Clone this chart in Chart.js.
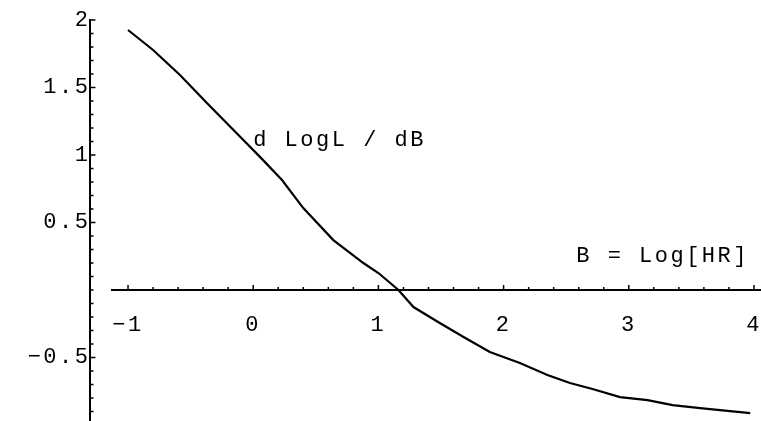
<!DOCTYPE html>
<html lang="en">
<head>
  <meta charset="UTF-8" />
  <title>d LogL / dB</title>
  <style>
    body {
      margin: 0;
      padding: 0;
      background: #fff;
    }
    canvas {
      display: block;
    }
  </style>
</head>
<body>
  <canvas id="plot" width="761" height="421"></canvas>

  <script src="https://cdn.jsdelivr.net/npm/chart.js"></script>
  <script>
    // curve: B = Log[HR] against d LogL / dB
    const bValues = [-1, -0.8, -0.585, -0.37, -0.13, 0.05, 0.23, 0.4, 0.64, 0.88, 1.0, 1.16, 1.28,
                     1.49, 1.68, 1.89, 2.13, 2.35, 2.53, 2.71, 2.93, 3.15, 3.35, 3.57, 3.97];
    const slopeValues = [1.926, 1.778, 1.593, 1.385, 1.16, 0.99, 0.815, 0.607, 0.37, 0.2, 0.126, 0, -0.126,
                         -0.244, -0.348, -0.459, -0.541, -0.63, -0.689, -0.733, -0.793, -0.815, -0.852, -0.874, -0.911];

    const xTickLabels = [-1, 0, 1, 2, 3, 4];
    const yTickLabels = [2, 1.5, 1, 0.5, -0.5];

    const curveLabel = 'd LogL / dB';
    const axisLabel = 'B = Log[HR]';

    const FONT = { family: '"Liberation Mono", "DejaVu Sans Mono", monospace', size: 22 };
    const fontStr = FONT.size + 'px ' + FONT.family;
    const SPACING = '2.5px';

    const fmt = (v) => String(v).replace('-', '\u2212');

    // the axes sit inside the plot, so their label padding must not shrink the area
    const noPadding = (scale) => {
      scale.paddingLeft = scale.paddingRight = scale.paddingTop = scale.paddingBottom = 0;
    };

    // mathematica-ish tick marks + the two text labels
    const decorations = {
      id: 'decorations',
      beforeDraw(chart) {
        chart.ctx.letterSpacing = SPACING;
      },
      afterDraw(chart) {
        const ctx = chart.ctx;
        const xs = chart.scales.x;
        const ys = chart.scales.y;
        const x0 = xs.getPixelForValue(-1.3);   // where the y axis sits
        const y0 = ys.getPixelForValue(0);      // where the x axis sits
        ctx.save();
        ctx.strokeStyle = '#000';
        ctx.lineWidth = 1.5;
        ctx.beginPath();
        // x axis ticks, pointing up
        for (let i = 0; i <= 25; i++) {
          const v = -1 + i * 0.2;
          const len = i % 5 === 0 ? 5 : 3;
          const px = xs.getPixelForValue(v);
          ctx.moveTo(px, y0);
          ctx.lineTo(px, y0 - len);
        }
        // y axis ticks, pointing right
        for (let i = -9; i <= 20; i++) {
          const v = i / 10;
          const len = (i % 5 === 0 && i !== 0) ? 5 : 3;
          const py = ys.getPixelForValue(v);
          ctx.moveTo(x0, py);
          ctx.lineTo(x0 + len, py);
        }
        ctx.stroke();

        ctx.fillStyle = '#000';
        ctx.font = fontStr;
        ctx.letterSpacing = SPACING;
        ctx.textBaseline = 'middle';
        ctx.textAlign = 'left';
        ctx.fillText(curveLabel, xs.getPixelForValue(0), ys.getPixelForValue(1.11));
        ctx.textAlign = 'center';
        ctx.fillText(axisLabel, xs.getPixelForValue(3.27), ys.getPixelForValue(0.25));
        ctx.restore();
      }
    };

    const ctx = document.getElementById('plot').getContext('2d');
    const chart = new Chart(ctx, {
      type: 'scatter',
      data: {
        datasets: [{
          data: bValues.map((b, i) => ({ x: b, y: slopeValues[i] })),
          showLine: true,
          borderColor: '#000',
          borderWidth: 2.2,
          pointRadius: 0,
          tension: 0,
          fill: false
        }]
      },
      options: {
        responsive: false,
        animation: false,
        devicePixelRatio: 1,
        layout: {
          padding: { left: 112, top: 20, right: 0, bottom: 0 },
          autoPadding: false
        },
        plugins: {
          legend: { display: false },
          tooltip: { enabled: false },
          title: { display: false }
        },
        scales: {
          x: {
            type: 'linear',
            min: -1.128,
            max: 4.056,
            position: { y: 0 },
            afterBuildTicks: (scale) => {
              scale.ticks = xTickLabels.map(v => ({ value: v }));
            },
            afterFit: noPadding,
            grid: { display: false, drawTicks: false },
            border: { display: true, color: '#000', width: 2 },
            ticks: {
              color: '#000',
              font: FONT,
              padding: 22,
              maxRotation: 0,
              autoSkip: false,
              callback: fmt
            }
          },
          y: {
            type: 'linear',
            min: -0.97,
            max: 2,
            position: { x: -1.3 },
            afterBuildTicks: (scale) => {
              scale.ticks = yTickLabels.map(v => ({ value: v }));
            },
            afterFit: noPadding,
            grid: { display: false, drawTicks: false },
            border: { display: true, color: '#000', width: 2 },
            ticks: {
              color: '#000',
              font: FONT,
              padding: 2,
              autoSkip: false,
              callback: fmt
            }
          }
        }
      },
      plugins: [decorations]
    });
  </script>
</body>
</html>
